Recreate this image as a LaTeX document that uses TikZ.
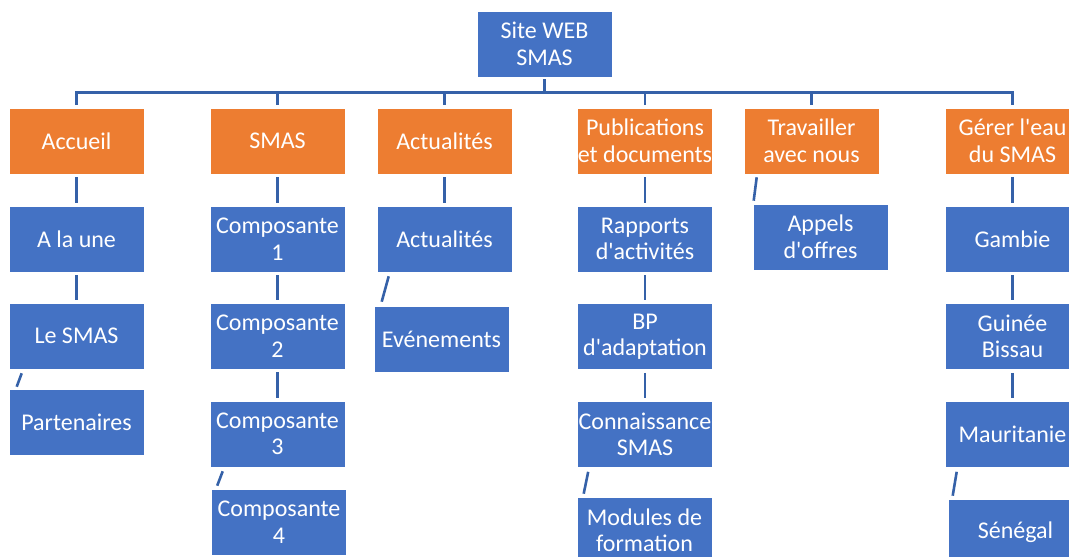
\documentclass[tikz,border=0pt]{standalone}
\usepackage{fontspec}
\setmainfont{Carlito}
\usetikzlibrary{calc}
\definecolor{boxblue}{HTML}{4472C4}
\definecolor{boxorange}{HTML}{ED7D31}
\definecolor{linkblue}{HTML}{3561A8}
\newcommand{\apos}{\textquotesingle}
\begin{document}
\begin{tikzpicture}[x=1pt,y=-1pt,
  box/.style={rectangle,draw=white,line width=0.6pt,minimum width=135pt,minimum height=66pt,
    inner sep=0pt,align=center,text=white,font=\fontsize{24}{26.5}\selectfont},
  bluebox/.style={box,fill=boxblue},
  orangebox/.style={box,fill=boxorange},
  link/.style={draw=linkblue,line width=2.6pt}]
\useasboundingbox (0,0) rectangle (1069,557);
\begin{scope}
\clip (0,0) rectangle (1069,557);
% root
\node[bluebox] (root) at (544.5,44) {Site WEB\\SMAS};
% level 1
\node[orangebox] (acc) at (76.5,141) {Accueil};
\node[orangebox] (smas) at (277.5,141) {SMAS};
\node[orangebox] (act) at (444.5,141) {Actualités};
\node[orangebox] (pub) at (645,141) {Publications\\et documents};
\node[orangebox] (trav) at (811.5,141) {Travailler\\avec nous};
\node[orangebox] (ger) at (1012.5,141) {Gérer l\apos eau\\du SMAS};
% Accueil column
\node[bluebox] (une) at (76.5,239) {A la une};
\node[bluebox] (lesmas) at (76.5,336) {Le SMAS};
\node[bluebox] (part) at (76.5,422) {Partenaires};
% SMAS column
\node[bluebox] (c1) at (277.5,239) {Composante\\1};
\node[bluebox] (c2) at (277.5,336) {Composante\\2};
\node[bluebox] (c3) at (277.5,434) {Composante\\3};
\node[bluebox] (c4) at (279,522) {Composante\\4};
% Actualites column
\node[bluebox] (act2) at (444.5,239) {Actualités};
\node[bluebox] (even) at (441.5,339) {Evénements};
% Publications column
\node[bluebox] (rap) at (645,239) {Rapports\\d\apos activités};
\node[bluebox] (bp) at (645,336.5) {BP\\d\apos adaptation};
\node[bluebox] (conn) at (645,434.5) {Connaissance\\SMAS};
\node[bluebox] (mod) at (644.5,530) {Modules de\\formation};
% Travailler column
\node[bluebox] (app) at (820.5,237) {Appels\\d\apos offres};
% Gerer column
\node[bluebox] (gam) at (1012.5,239) {Gambie};
\node[bluebox] (gui) at (1012.5,336.5) {Guinée\\Bissau};
\node[bluebox] (mau) at (1012.5,434.5) {Mauritanie};
\node[bluebox] (sen) at (1015.5,532) {Sénégal};
\end{scope}
% bus
\coordinate (bus) at (544.5,92.5);
\draw[link] ($(root.south)+(0,2)$) -- (bus);
\draw[link] ($(acc.north)+(0,-3)$) |- ($(ger.north)+(0,-15.5)$) -- ($(ger.north)+(0,-3)$);
\foreach \n in {smas,act,pub,trav}
  \draw[link] ($(\n.north)+(0,-3)$) -- ($(\n.north)+(0,-15.5)$);
% vertical connectors
\foreach \a/\b in {acc/une,une/lesmas,smas/c1,c1/c2,c2/c3,act/act2,pub/rap,rap/bp,bp/conn,ger/gam,gam/gui,gui/mau}
  \draw[link] ($(\a.south)+(0,3)$) -- ($(\b.north)+(0,-3)$);
% slanted connectors
\draw[link] ($(lesmas.south west)+(13,4)$) -- ($(part.north west)+(8,-2)$);
\draw[link] ($(c3.south west)+(13,4)$) -- ($(c4.north west)+(6,-3)$);
\draw[link] ($(act2.south west)+(12,4)$) -- ($(even.north west)+(8,-4)$);
\draw[link] ($(conn.south west)+(11,4)$) -- ($(mod.north west)+(7,-3)$);
\draw[link] ($(trav.south west)+(13,3)$) -- ($(app.north west)+(1,-3)$);
\draw[link] ($(mau.south west)+(12,4)$) -- ($(sen.north west)+(5,-3)$);
\end{tikzpicture}
\end{document}
